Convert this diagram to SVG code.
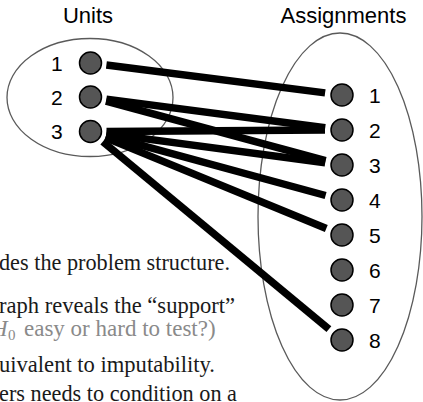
<svg xmlns="http://www.w3.org/2000/svg" width="423" height="402" viewBox="0 0 423 402">
<style>
.title{font-family:"Liberation Sans",Arial,sans-serif;font-size:22px;fill:#000}
.num{font-family:"Liberation Sans",Arial,sans-serif;font-size:21px;fill:#000}
.set{fill:none;stroke:#5a5a5a;stroke-width:1.3}
.dot{fill:#555;stroke:#000;stroke-width:1.5}
.edge{stroke:#000;stroke-width:7.5;stroke-linecap:butt;fill:none}
.body{font-family:"Liberation Serif","Times New Roman",serif;font-size:23px;fill:#1a1a1a}
.gray{fill:#8a8a8a}
</style>
<rect width="423" height="402" fill="#fff"/>
<g id="text">
<text class="body" x="-1" y="270" textLength="231" lengthAdjust="spacingAndGlyphs">des the problem structure.</text>
<text class="body" x="-1" y="313" textLength="236" lengthAdjust="spacingAndGlyphs">raph reveals the “support”</text>
<text class="body gray" y="336"><tspan x="-9" font-style="italic">H</tspan><tspan x="8" font-size="15" dy="4">0</tspan><tspan x="24" dy="-4">easy or hard to test?)</tspan></text>
<text class="body" x="-1" y="372" textLength="216" lengthAdjust="spacingAndGlyphs">uivalent to imputability.</text>
<text class="body" x="-1" y="401" textLength="238" lengthAdjust="spacingAndGlyphs">ers needs to condition on a</text>
</g>
<g id="sets">
<ellipse id="units-set" class="set" cx="90" cy="97.5" rx="83" ry="59"/>
<ellipse id="assignments-set" class="set" cx="340" cy="216.5" rx="82" ry="183.5"/>
<text class="title" x="88" y="23" text-anchor="middle">Units</text>
<text class="title" x="343.5" y="23" text-anchor="middle">Assignments</text>
</g>
<g id="connectors">
<line class="edge" x1="106.4" y1="65.0" x2="325.1" y2="92.9"/>
<line class="edge" x1="106.4" y1="99.1" x2="325.2" y2="127.8"/>
<line class="edge" x1="106.0" y1="101.2" x2="325.6" y2="160.6"/>
<line class="edge" x1="106.5" y1="131.4" x2="325.0" y2="130.1"/>
<line class="edge" x1="106.4" y1="133.6" x2="325.2" y2="162.8"/>
<line class="edge" x1="105.9" y1="135.7" x2="325.6" y2="195.5"/>
<line class="edge" x1="105.3" y1="137.6" x2="326.3" y2="228.5"/>
<line class="edge" x1="102.8" y1="141.7" x2="328.9" y2="329.2"/>
</g>
<g id="unit-1"><circle class="dot" cx="90.5" cy="63" r="11"/><text class="num" x="51" y="70.5">1</text></g>
<g id="unit-2"><circle class="dot" cx="90.5" cy="97" r="11"/><text class="num" x="51" y="104.5">2</text></g>
<g id="unit-3"><circle class="dot" cx="90.5" cy="131.5" r="11"/><text class="num" x="51" y="139">3</text></g>
<g id="assign-1"><circle class="dot" cx="342" cy="95" r="11"/><text class="num" x="369" y="102.5">1</text></g>
<g id="assign-2"><circle class="dot" cx="342" cy="130" r="11"/><text class="num" x="369" y="137.5">2</text></g>
<g id="assign-3"><circle class="dot" cx="342" cy="165" r="11"/><text class="num" x="369" y="172.5">3</text></g>
<g id="assign-4"><circle class="dot" cx="342" cy="200" r="11"/><text class="num" x="369" y="207.5">4</text></g>
<g id="assign-5"><circle class="dot" cx="342" cy="235" r="11"/><text class="num" x="369" y="242.5">5</text></g>
<g id="assign-6"><circle class="dot" cx="342" cy="270" r="11"/><text class="num" x="369" y="277.5">6</text></g>
<g id="assign-7"><circle class="dot" cx="342" cy="305" r="11"/><text class="num" x="369" y="312.5">7</text></g>
<g id="assign-8"><circle class="dot" cx="342" cy="340" r="11"/><text class="num" x="369" y="347.5">8</text></g>
</svg>
